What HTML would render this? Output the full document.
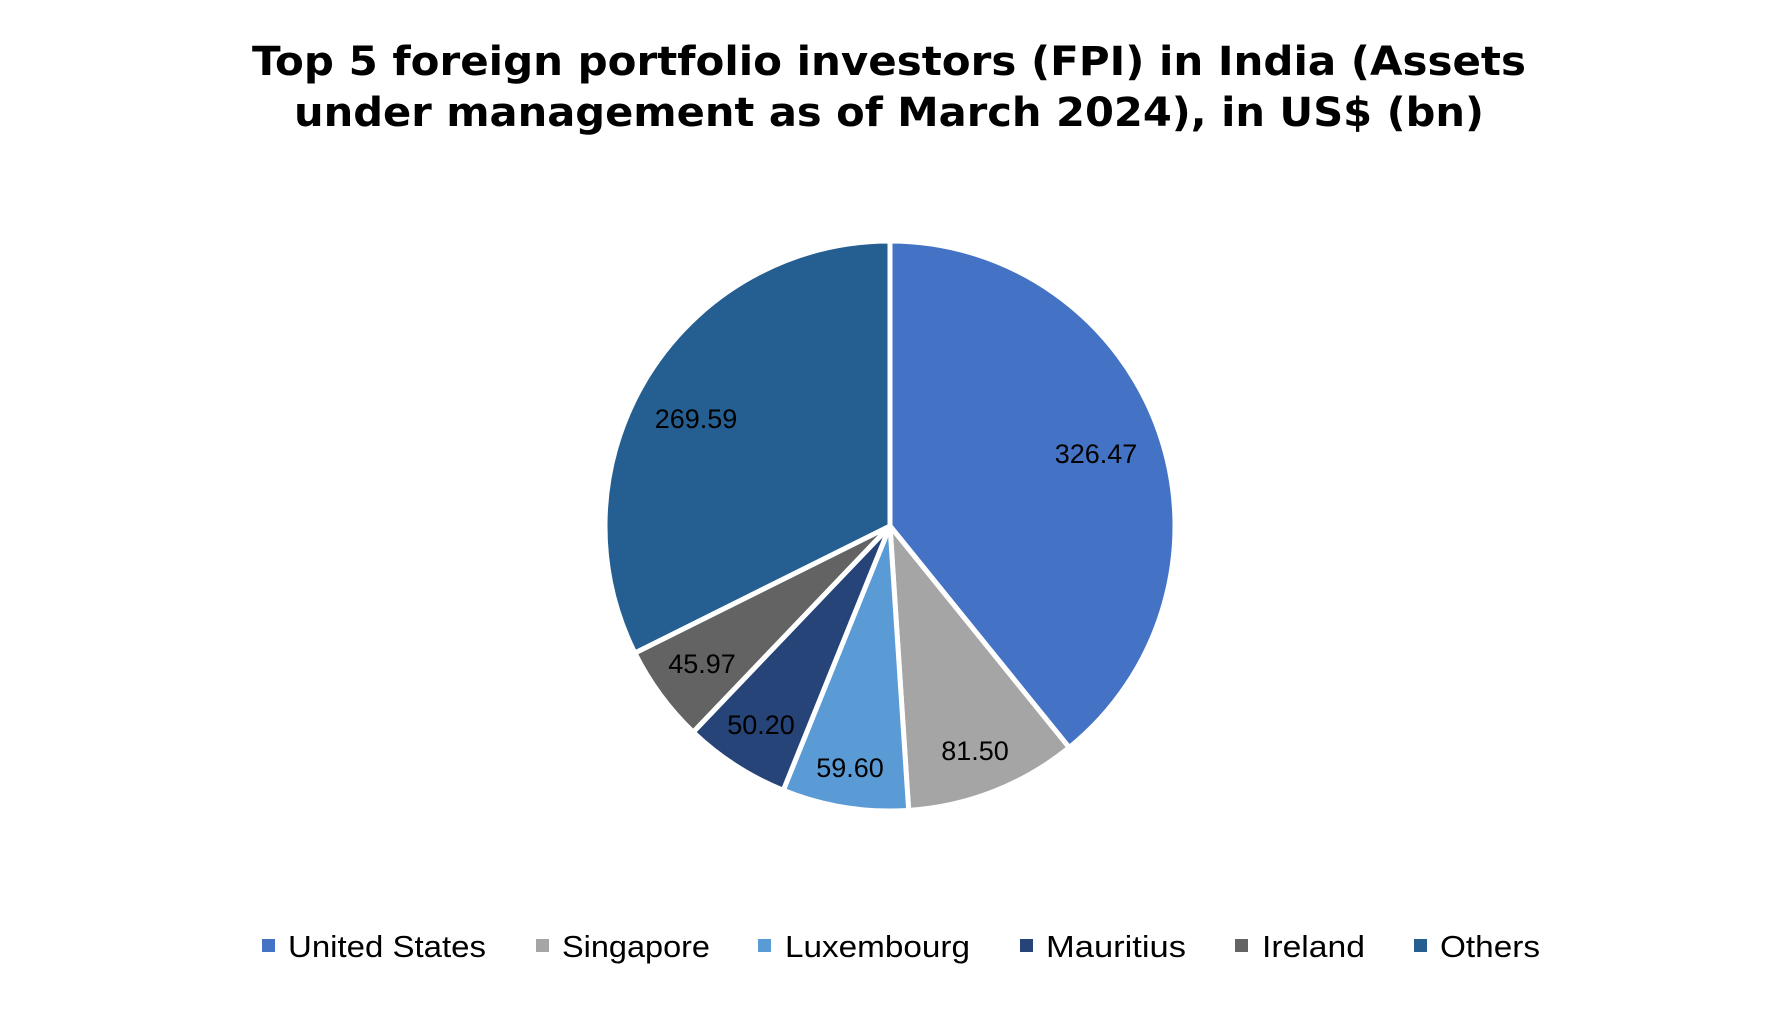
<!DOCTYPE html>
<html><head><meta charset="utf-8"><style>
html,body{margin:0;padding:0;background:#fff;}
svg{display:block}
text{font-family:"DejaVu Sans","Liberation Sans",sans-serif;}
.l{font-family:"Liberation Sans",sans-serif;font-size:27px;fill:#000}
.g{font-family:"Liberation Sans",sans-serif;font-size:31px;fill:#000}
</style></head><body>
<svg id="s" width="1782" height="1011" viewBox="0 0 1782 1011" xmlns="http://www.w3.org/2000/svg">
<text x="889" y="75" text-anchor="middle" font-weight="bold" font-size="40" textLength="1274" lengthAdjust="spacingAndGlyphs">Top 5 foreign portfolio investors (FPI) in India (Assets</text>
<text x="889" y="126" text-anchor="middle" font-weight="bold" font-size="40" textLength="1190" lengthAdjust="spacingAndGlyphs">under management as of March 2024), in US$ (bn)</text>
<g id="pie"></g>
<text class="l" x="1096" y="463" text-anchor="middle">326.47</text>
<text class="l" x="696" y="428" text-anchor="middle">269.59</text>
<text class="l" x="975" y="760" text-anchor="middle">81.50</text>
<text class="l" x="850" y="777" text-anchor="middle">59.60</text>
<text class="l" x="761" y="734" text-anchor="middle">50.20</text>
<text class="l" x="702" y="673" text-anchor="middle">45.97</text>
<g transform="translate(-3,-5)">
<rect x="265" y="944" width="13" height="13" fill="#4472c4"/><text class="g" x="291" y="962" textLength="198" lengthAdjust="spacingAndGlyphs">United States</text>
<rect x="539" y="944" width="13" height="13" fill="#a5a5a5"/><text class="g" x="565" y="962" textLength="148" lengthAdjust="spacingAndGlyphs">Singapore</text>
<rect x="761" y="944" width="13" height="13" fill="#5b9bd5"/><text class="g" x="788" y="962" textLength="185" lengthAdjust="spacingAndGlyphs">Luxembourg</text>
<rect x="1023" y="944" width="13" height="13" fill="#264478"/><text class="g" x="1049" y="962" textLength="140" lengthAdjust="spacingAndGlyphs">Mauritius</text>
<rect x="1238" y="944" width="13" height="13" fill="#636363"/><text class="g" x="1265" y="962" textLength="103" lengthAdjust="spacingAndGlyphs">Ireland</text>
<rect x="1417" y="944" width="13" height="13" fill="#255e91"/><text class="g" x="1443" y="962" textLength="100" lengthAdjust="spacingAndGlyphs">Others</text>
</g>
</svg>
<script>
var v=[326.47,81.5,59.6,50.2,45.97,269.59],c=["#4472c4","#a5a5a5","#5b9bd5","#264478","#636363","#255e91"];
var t=v.reduce(function(a,b){return a+b},0),cx=890,cy=526,r=285,a=0,h="";
for(var i=0;i<v.length;i++){var a2=a+v[i]/t*2*Math.PI;
var x1=cx+r*Math.sin(a),y1=cy-r*Math.cos(a),x2=cx+r*Math.sin(a2),y2=cy-r*Math.cos(a2);
h+='<path d="M'+cx+' '+cy+'L'+x1+' '+y1+'A'+r+' '+r+' 0 '+(a2-a>Math.PI?1:0)+' 1 '+x2+' '+y2+'Z" fill="'+c[i]+'" stroke="#fff" stroke-width="5" stroke-linejoin="round"/>';a=a2;}
document.getElementById("pie").innerHTML=h;
</script>
</body></html>
